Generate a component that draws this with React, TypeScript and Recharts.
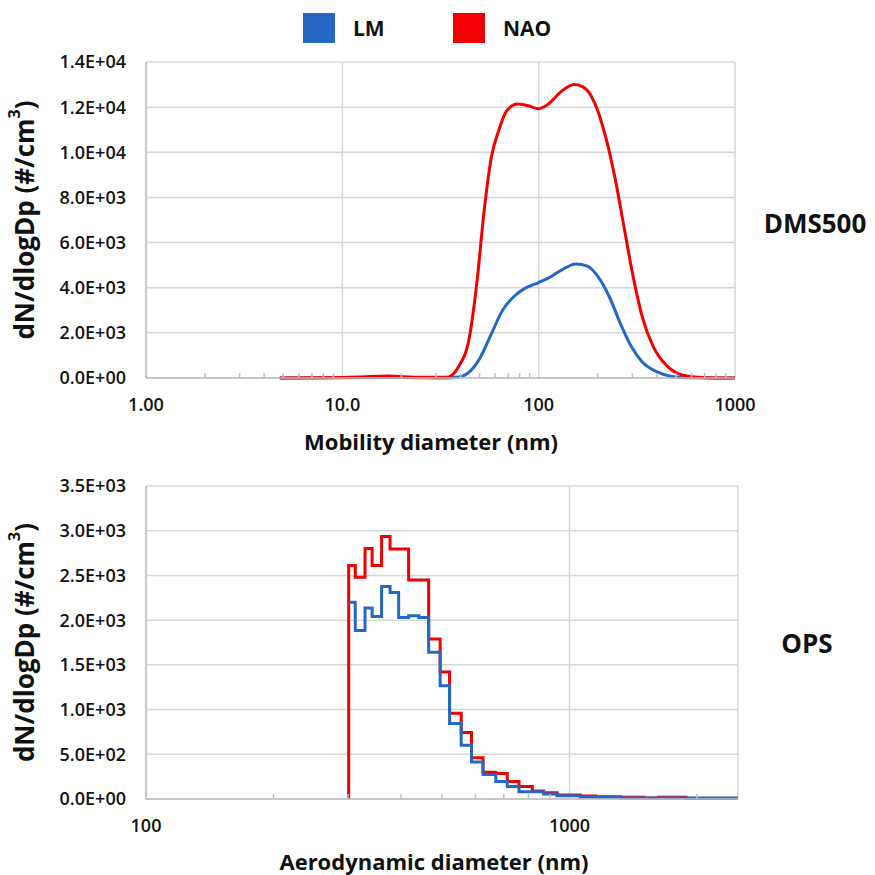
import { LineChart, Line, XAxis, YAxis, CartesianGrid } from 'recharts';

const BLUE = '#2567c4';
const RED = '#f20000';
const GRID = '#d6d6d6';
const AXIS = '#bfbfbf';
const FONT = '"Open Sans", "Noto Sans", sans-serif';

// DMS500 – mobility diameter (nm) vs dN/dlogDp
const dmsNaoDiameter = [4.8, 8, 12, 17, 25, 34, 39, 44.4, 48.4, 52.8, 57.5, 62.8, 68.4, 77.8, 88.6, 100, 112, 130.5, 151.5, 169, 193, 219, 244, 272, 303, 337, 384, 456, 542, 644, 800, 1000];
const dmsNaoValue = [0, 10, 40, 90, 30, 30, 490, 1820, 4190, 7440, 9810, 11000, 11810, 12140, 12060, 11930, 12140, 12700, 13000, 12890, 12180, 10700, 8920, 6700, 4480, 2710, 1380, 490, 120, 30, 0, 0];
const dmsLmDiameter = [4.8, 20, 34, 39, 44.4, 50.6, 57.5, 65.5, 74.6, 85, 100, 115, 130.5, 155, 177, 201, 229, 261, 297, 337, 401, 477, 592, 800, 1000];
const dmsLmValue = [0, 20, 0, 40, 270, 930, 1970, 3000, 3600, 3970, 4230, 4480, 4780, 5050, 4960, 4480, 3600, 2410, 1380, 710, 270, 70, 10, 0, 0];
const dmsXTicks = [1, 10, 100, 1000];
const dmsXTickLabels = ['1.00', '10.0', '100', '1000'];
const dmsMinorTicks = [2, 3, 4, 5, 6, 7, 8, 9, 20, 30, 40, 50, 60, 70, 80, 90, 200, 300, 400, 500, 600, 700, 800, 900];
const dmsYTicks = [0, 2000, 4000, 6000, 8000, 10000, 12000, 14000];

// OPS – aerodynamic diameter bins (lower edge, nm) vs dN/dlogDp
const opsBinEdges = [301, 312, 329, 342, 360, 377, 395, 417, 441, 465, 495, 521, 555, 587, 625, 670, 713, 760, 817, 869, 935, 1060, 1153, 1321, 1497, 1626, 1884];
const opsNao = [2610, 2480, 2800, 2610, 2935, 2795, 2795, 2450, 2450, 1790, 1420, 960, 745, 460, 300, 285, 195, 140, 90, 70, 45, 33, 25, 20, 10, 20, 6];
const opsLm = [2200, 1885, 2135, 2040, 2375, 2310, 2030, 2050, 2030, 1640, 1265, 845, 600, 415, 275, 195, 140, 80, 80, 55, 37, 22, 20, 10, 10, 10, 10];
const opsXMax = 2500;
const opsXTicks = [100, 1000];
const opsXTickLabels = ['100', '1000'];
const opsMinorTicks = [200, 300, 400, 500, 600, 700, 800, 900, 2000];
const opsYTicks = [0, 500, 1000, 1500, 2000, 2500, 3000, 3500];

const dmsNaoData = dmsNaoDiameter.map((d, i) => ({ d, v: dmsNaoValue[i] }));
const dmsLmData = dmsLmDiameter.map((d, i) => ({ d, v: dmsLmValue[i] }));

const opsData = [
  { d: opsBinEdges[0], nao: 0, lm: null as number | null },
  ...opsBinEdges.map((d, i) => ({ d, nao: opsNao[i], lm: opsLm[i] as number | null })),
  { d: opsXMax, nao: opsNao[opsNao.length - 1], lm: opsLm[opsLm.length - 1] as number | null },
];

function sci(v: number) {
  if (v === 0) return '0.0E+00';
  const e = Math.floor(Math.log10(v) + 1e-9);
  const m = v / Math.pow(10, e);
  return `${m.toFixed(1)}E+${String(e).padStart(2, '0')}`;
}

const tickStyle = { fill: '#111', fontSize: 18, fontWeight: 600, fontFamily: FONT };
const titleStyle = { fill: '#111', fontSize: 22, fontWeight: 700, fontFamily: FONT };

function YTitle({ viewBox }: any) {
  const cx = 24;
  const cy = viewBox.y + viewBox.height / 2;
  return (
    <text x={cx} y={cy} transform={`rotate(-90 ${cx} ${cy})`} textAnchor="middle" dominantBaseline="central" style={{ ...titleStyle, fontSize: 26 }}>
      dN/dlogDp (#/cm<tspan dy={-10} fontSize={16}>3</tspan>
      <tspan dy={10}>)</tspan>
    </text>
  );
}

function XTitle({ text, tx, ty }: { text: string; tx: number; ty: number }) {
  return (
    <text x={tx} y={ty} textAnchor="middle" style={titleStyle}>
      {text}
    </text>
  );
}

function SideLabel({ text, x, y }: { text: string; x: number; y: number }) {
  return (
    <div style={{ position: 'absolute', left: x, top: y, transform: 'translate(-50%, -50%)', fontFamily: FONT, fontWeight: 700, fontSize: 26, lineHeight: 1, color: '#111' }}>
      {text}
    </div>
  );
}

function LegendItem({ color, text, x }: { color: string; text: string; x: number }) {
  return (
    <>
      <div style={{ position: 'absolute', left: x, top: 13, width: 32, height: 30, background: color }} />
      <div style={{ position: 'absolute', left: x + 50, top: 28, transform: 'translateY(-50%)', fontFamily: FONT, fontWeight: 700, fontSize: 21, lineHeight: 1, color: '#111' }}>
        {text}
      </div>
    </>
  );
}

export default function App() {
  return (
    <div style={{ position: 'absolute', left: 0, top: 0, width: 875, height: 875, background: '#fff', overflow: 'hidden' }}>
      <LegendItem color={BLUE} text="LM" x={303} />
      <LegendItem color={RED} text="NAO" x={453} />

      <div style={{ position: 'absolute', left: 0, top: 0 }}>
        <LineChart width={875} height={460} margin={{ top: 62, right: 140, bottom: 0, left: 0 }}>
          <CartesianGrid stroke={GRID} strokeWidth={1.5} />
          <XAxis
            dataKey="d"
            type="number"
            scale="log"
            domain={[1, 1000]}
            allowDataOverflow
            ticks={dmsXTicks}
            interval={0}
            tickFormatter={(v) => dmsXTickLabels[dmsXTicks.indexOf(v)] ?? ''}
            tickLine={false}
            tickSize={0}
            tickMargin={20}
            height={82}
            axisLine={{ stroke: AXIS, strokeWidth: 1.5 }}
            tick={tickStyle}
            label={<XTitle text="Mobility diameter (nm)" tx={431} ty={450} />}
          />
          <XAxis
            xAxisId="minor"
            dataKey="d"
            type="number"
            scale="log"
            domain={[1, 1000]}
            allowDataOverflow
            ticks={dmsMinorTicks}
            interval={0}
            mirror
            height={5}
            axisLine={false}
            tickSize={5}
            tickLine={{ stroke: AXIS, strokeWidth: 1.5 }}
            tickFormatter={() => ''}
          />
          <YAxis
            type="number"
            domain={[0, 14000]}
            ticks={dmsYTicks}
            interval={0}
            tickFormatter={sci}
            width={146}
            tickLine={false}
            tickSize={0}
            tickMargin={20}
            axisLine={{ stroke: AXIS, strokeWidth: 1.5 }}
            tick={tickStyle}
            label={<YTitle />}
          />
          <Line data={dmsLmData} dataKey="v" type="monotone" stroke={BLUE} strokeWidth={3} dot={false} isAnimationActive={false} />
          <Line data={dmsNaoData} dataKey="v" type="monotone" stroke={RED} strokeWidth={3} dot={false} isAnimationActive={false} />
        </LineChart>
      </div>

      <div style={{ position: 'absolute', left: 0, top: 460 }}>
        <LineChart width={875} height={415} data={opsData} margin={{ top: 26, right: 137, bottom: 0, left: 0 }}>
          <CartesianGrid stroke={GRID} strokeWidth={1.5} />
          <XAxis
            dataKey="d"
            type="number"
            scale="log"
            domain={[100, opsXMax]}
            allowDataOverflow
            ticks={opsXTicks}
            interval={0}
            tickFormatter={(v) => opsXTickLabels[opsXTicks.indexOf(v)] ?? ''}
            tickLine={false}
            tickSize={0}
            tickMargin={20}
            height={76}
            axisLine={{ stroke: AXIS, strokeWidth: 1.5 }}
            tick={tickStyle}
            label={<XTitle text="Aerodynamic diameter (nm)" tx={434} ty={410} />}
          />
          <XAxis
            xAxisId="minor"
            dataKey="d"
            type="number"
            scale="log"
            domain={[100, opsXMax]}
            allowDataOverflow
            ticks={opsMinorTicks}
            interval={0}
            mirror
            height={5}
            axisLine={false}
            tickSize={5}
            tickLine={{ stroke: AXIS, strokeWidth: 1.5 }}
            tickFormatter={() => ''}
          />
          <YAxis
            type="number"
            domain={[0, 3500]}
            ticks={opsYTicks}
            interval={0}
            tickFormatter={sci}
            width={146}
            tickLine={false}
            tickSize={0}
            tickMargin={20}
            axisLine={{ stroke: AXIS, strokeWidth: 1.5 }}
            tick={tickStyle}
            label={<YTitle />}
          />
          <Line dataKey="nao" type="stepAfter" stroke={RED} strokeWidth={3} dot={false} isAnimationActive={false} />
          <Line dataKey="lm" type="stepAfter" stroke={BLUE} strokeWidth={3} dot={false} isAnimationActive={false} />
        </LineChart>
      </div>

      <SideLabel text="DMS500" x={815} y={223} />
      <SideLabel text="OPS" x={807} y={643} />
    </div>
  );
}
